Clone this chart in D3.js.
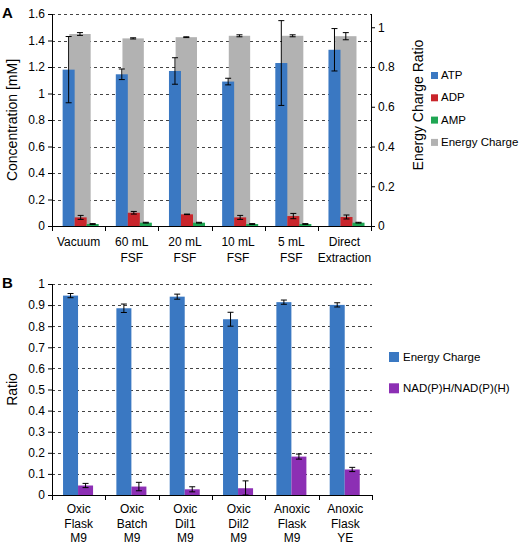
<!DOCTYPE html>
<html><head><meta charset="utf-8">
<script src="https://cdn.jsdelivr.net/npm/d3@7"></script>
<style>body{margin:0;background:#fff}svg{display:block;font-family:"Liberation Sans",Arial,sans-serif}</style>
</head><body><svg id="c" width="520" height="545"></svg>
<script>
// ---- Panel A data ----
const catsA = ["Vacuum", "60 mL|FSF", "20 mL|FSF", "10 mL|FSF", "5 mL|FSF", "Direct|Extraction"];
const atp    = [1.18, 1.145, 1.17, 1.09, 1.23, 1.33];
const atpErr = [0.25, 0.04, 0.10, 0.025, 0.32, 0.16];
const adp    = [0.065, 0.10, 0.088, 0.065, 0.075, 0.068];
const adpErr = [0.015, 0.01, 0.002, 0.015, 0.02, 0.015];
const amp    = [0.015, 0.025, 0.025, 0.015, 0.015, 0.025];
const ampErr = [0.003, 0.003, 0.003, 0.003, 0.003, 0.003];
const ecA    = [0.966, 0.944, 0.95, 0.957, 0.957, 0.955];
const ecAErr = [0.007, 0.003, 0.002, 0.005, 0.005, 0.018];
const ticksA = [0, 0.2, 0.4, 0.6, 0.8, 1, 1.2, 1.4, 1.6];
const ticksA2 = [0, 0.2, 0.4, 0.6, 0.8, 1];
const seriesA = ["ATP", "ADP", "AMP", "Energy Charge"];
// ---- Panel B data ----
const catsB = ["Oxic|Flask|M9", "Oxic|Batch|M9", "Oxic|Dil1|M9", "Oxic|Dil2|M9", "Anoxic|Flask|M9", "Anoxic|Flask|YE"];
const ecB     = [0.945, 0.885, 0.94, 0.833, 0.914, 0.901];
const ecBErr  = [0.01, 0.02, 0.012, 0.033, 0.01, 0.01];
const nadB    = [0.045, 0.04, 0.027, 0.032, 0.182, 0.121];
const nadBErr = [0.01, 0.02, 0.012, 0.035, 0.012, 0.01];
const ticksB = [0, 0.1, 0.2, 0.3, 0.4, 0.5, 0.6, 0.7, 0.8, 0.9, 1];
const seriesB = ["Energy Charge", "NAD(P)H/NAD(P)(H)"];

const colors = {"ATP":"#3a78c2","ADP":"#c9252b","AMP":"#1fa653","Energy Charge":"#b2b2b2","EC_B":"#3a78c2","NAD":"#8c2fb4"};
const svg = d3.select("#c");

function fmt(v){ return v===0 ? "0" : (Math.round(v*10)/10 === v ? String(v) : String(v)); }

function errBar(g, cx, y, v, e){
  const cap = 3;
  g.append("line").attr("x1",cx).attr("x2",cx).attr("y1",y(v+e)).attr("y2",y(Math.max(0,v-e))).attr("stroke","#000").attr("stroke-width",1);
  [v+e, Math.max(0,v-e)].forEach(t=>{
    g.append("line").attr("x1",cx-cap).attr("x2",cx+cap).attr("y1",y(t)).attr("y2",y(t)).attr("stroke","#000").attr("stroke-width",1);
  });
}

function gridAndAxes(g, x, y, ticks, x0, x1, y0){
  // grid
  g.selectAll(".grid").data(ticks.filter(t=>t>0)).enter().append("line")
    .attr("x1",x0).attr("x2",x1).attr("y1",d=>Math.round(y(d))+0.5).attr("y2",d=>Math.round(y(d))+0.5)
    .attr("stroke","#444").attr("stroke-dasharray","3,3").attr("stroke-width",1);
  // left axis
  const ax = g.append("g").attr("transform",`translate(${x0},0)`)
    .call(d3.axisLeft(y).tickValues(ticks).tickSize(4).tickPadding(3).tickFormat(d=>d3.format("")(+d.toFixed(2))));
  ax.select(".domain").remove();
  ax.selectAll("line").attr("stroke","#000");
  ax.selectAll("text").attr("font-size",12).attr("fill","#000");
  g.append("line").attr("x1",x0+0.5).attr("x2",x0+0.5).attr("y1",y(ticks[ticks.length-1])).attr("y2",y0).attr("stroke","#000");
  // bottom axis
  g.append("line").attr("x1",x0).attr("x2",x1).attr("y1",y0+0.5).attr("y2",y0+0.5).attr("stroke","#000");
  const bounds = x.domain().map(d=>x(d)).concat([x.range()[1]]);
  g.selectAll(".xt").data(bounds).enter().append("line")
    .attr("x1",d=>Math.round(d)+0.5).attr("x2",d=>Math.round(d)+0.5).attr("y1",y0).attr("y2",y0+5).attr("stroke","#000");
}

function catLabels(g, x, cats, yb, lh){
  cats.forEach(c=>{
    const t = g.append("text").attr("text-anchor","middle").attr("font-size",12).attr("fill","#000");
    c.split("|").forEach((s,i)=>{
      t.append("tspan").attr("x",x(c)+x.bandwidth()/2).attr("y",yb+i*lh).text(s);
    });
  });
}

// ================= Panel A =================
{
  const g = svg.append("g");
  const x0 = 52, x1 = 371, yTop = 14, y0 = 226;
  const x = d3.scaleBand().domain(catsA).range([x0, x1]).padding(0);
  const y = d3.scaleLinear().domain([0, 1.6]).range([y0, yTop]);
  const y2 = d3.scaleLinear().domain([0, 1.6/1.5]).range([y0, yTop]);
  const bw = x.bandwidth();
  const sub = d3.scaleBand().domain(["ATP","ADP","AMP"]).range([0.2*bw, 0.878*bw]).padding(0);
  const subEC = d3.scaleBand().domain(["Energy Charge"]).range([0.325*bw, 0.727*bw]).padding(0);

  gridAndAxes(g, x, y, ticksA, x0, x1, y0);

  // energy charge (secondary axis) behind
  catsA.forEach((c,i)=>{
    g.append("rect").attr("x",x(c)+subEC("Energy Charge")).attr("width",subEC.bandwidth())
      .attr("y",y2(ecA[i])).attr("height",y0-y2(ecA[i])).attr("fill",colors["Energy Charge"]);
  });
  const prim = {"ATP":[atp,atpErr],"ADP":[adp,adpErr],"AMP":[amp,ampErr]};
  Object.keys(prim).forEach(s=>{
    const [vals] = prim[s];
    catsA.forEach((c,i)=>{
      g.append("rect").attr("x",x(c)+sub(s)).attr("width",sub.bandwidth())
        .attr("y",y(vals[i])).attr("height",y0-y(vals[i])).attr("fill",colors[s]);
    });
  });
  // error bars
  catsA.forEach((c,i)=>{
    errBar(g, x(c)+subEC("Energy Charge")+subEC.bandwidth()/2, y2, ecA[i], ecAErr[i]);
  });
  Object.keys(prim).forEach(s=>{
    const [vals, errs] = prim[s];
    catsA.forEach((c,i)=>{ errBar(g, x(c)+sub(s)+sub.bandwidth()/2, y, vals[i], errs[i]); });
  });

  // right axis
  g.append("line").attr("x1",x1+0.5).attr("x2",x1+0.5).attr("y1",yTop).attr("y2",y0).attr("stroke","#000");
  const ar = g.append("g").attr("transform",`translate(${x1},0)`)
    .call(d3.axisRight(y2).tickValues(ticksA2).tickSize(4).tickPadding(3).tickFormat(d=>String(+d.toFixed(2))));
  ar.select(".domain").remove();
  ar.selectAll("line").attr("stroke","#000");
  ar.selectAll("text").attr("font-size",12).attr("fill","#000");

  catLabels(g, x, catsA, 246, 16);

  g.append("text").attr("transform",`translate(17,${(yTop+y0)/2}) rotate(-90)`).attr("text-anchor","middle")
    .attr("font-size",14).text("Concentration [mM]");
  g.append("text").attr("transform",`translate(423,105) rotate(-90)`).attr("text-anchor","middle")
    .attr("font-size",14).text("Energy Charge Ratio");
  g.append("text").attr("x",2).attr("y",18).attr("font-size",15).attr("font-weight","bold").text("A");

  // legend
  seriesA.forEach((s,i)=>{
    const ly = 72 + i*22.3;
    g.append("rect").attr("x",431).attr("y",ly).attr("width",7).attr("height",7).attr("fill",colors[s]);
    g.append("text").attr("x",441).attr("y",ly+7).attr("font-size",11.5).text(s);
  });
}

// ================= Panel B =================
{
  const g = svg.append("g");
  const x0 = 52, x1 = 372, yTop = 284, y0 = 495;
  const x = d3.scaleBand().domain(catsB).range([x0, x1]).padding(0);
  const y = d3.scaleLinear().domain([0, 1]).range([y0, yTop]);
  const bw = x.bandwidth();
  const sub = d3.scaleBand().domain(seriesB).range([0.207*bw, 0.77*bw]).padding(0);

  gridAndAxes(g, x, y, ticksB, x0, x1, y0);

  const data = {"Energy Charge":[ecB, ecBErr, colors.EC_B], "NAD(P)H/NAD(P)(H)":[nadB, nadBErr, colors.NAD]};
  seriesB.forEach(s=>{
    const [vals,, col] = data[s];
    catsB.forEach((c,i)=>{
      g.append("rect").attr("x",x(c)+sub(s)).attr("width",sub.bandwidth())
        .attr("y",y(vals[i])).attr("height",y0-y(vals[i])).attr("fill",col);
    });
  });
  seriesB.forEach(s=>{
    const [vals, errs] = data[s];
    catsB.forEach((c,i)=>{ errBar(g, x(c)+sub(s)+sub.bandwidth()/2, y, vals[i], errs[i]); });
  });

  catLabels(g, x, catsB, 513, 14.5);

  g.append("text").attr("transform",`translate(17,${(yTop+y0)/2}) rotate(-90)`).attr("text-anchor","middle")
    .attr("font-size",14).text("Ratio");
  g.append("text").attr("x",2).attr("y",288).attr("font-size",15).attr("font-weight","bold").text("B");

  seriesB.forEach((s,i)=>{
    const ly = 352 + i*31.3;
    g.append("rect").attr("x",389).attr("y",ly).attr("width",10).attr("height",10).attr("fill",data[s][2]);
    g.append("text").attr("x",403).attr("y",ly+9).attr("font-size",11.5).text(s);
  });
}
</script></body></html>
